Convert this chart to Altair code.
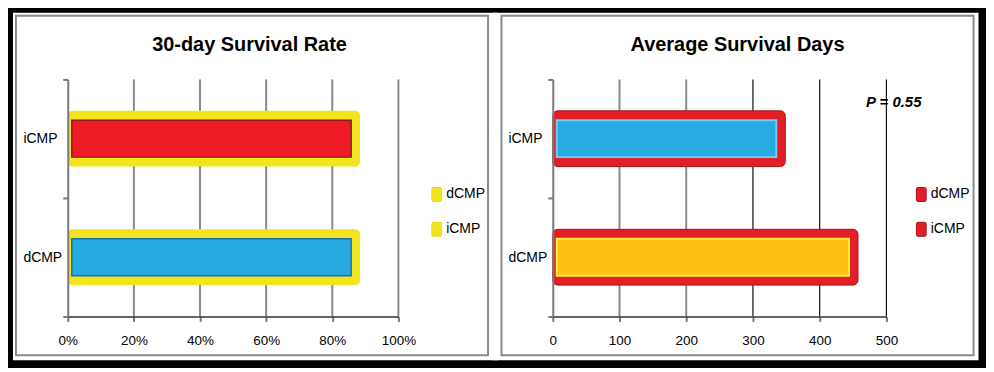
import altair as alt
import pandas as pd

# ---- data ----
groups = ["iCMP", "dCMP"]              # top to bottom
legend_order = ["dCMP", "iCMP"]
survival_rate = [0.857, 0.857]         # 30-day survival rate
survival_days = [335, 444]             # average survival days
rate_ticks = [0, 0.2, 0.4, 0.6, 0.8, 1.0]
day_ticks = [0, 100, 200, 300, 400, 500]
titles = ["30-day Survival Rate", "Average Survival Days"]
p_value_text = "P = 0.55"

FONT = "Liberation Sans"
PLOT_H = 238

rate_df = pd.DataFrame({"group": groups, "value": survival_rate})
days_df = pd.DataFrame({"group": groups, "value": survival_days})
rate_grid = pd.DataFrame({"v": rate_ticks[1:]})
day_grid = pd.DataFrame({"v": day_ticks[1:]})
one = pd.DataFrame({"k": [0]})

SYMBOL = ("M-0.5,-1H0.5A0.2,0.2 0 0 1 0.7,-0.8V0.8A0.2,0.2 0 0 1 0.5,1"
          "H-0.5A0.2,0.2 0 0 1 -0.7,0.8V-0.8A0.2,0.2 0 0 1 -0.5,-1Z")


def panel(df, grid_df, ticks, fmt, title, dx, width, box, border,
          outer_color, outer_stroke, inner_fill, inner_stroke, inner_sw,
          grid_color, grid_width, legend_x, legend_stroke, extra=None):
    xscale = alt.Scale(domain=[ticks[0], ticks[-1]], nice=False, zero=False)
    xaxis = alt.Axis(title=None, values=ticks, format=fmt, grid=False,
                     domainColor="#333333", domainWidth=1.5,
                     tickColor="#7a7a7a", tickWidth=2, tickSize=5,
                     labelPadding=12, labelFont=FONT, labelFontSize=13.5,
                     labelColor="black", labelFlush=False, zindex=1)
    yscale = alt.Scale(domain=groups, paddingInner=0, paddingOuter=0)
    yaxis = alt.Axis(title=None, labelAlign="left", labelPadding=40,
                     tickSize=5, tickBand="extent", tickColor="#7a7a7a",
                     tickWidth=2, domainColor="#7a7a7a", domainWidth=2,
                     labelFont=FONT, labelFontSize=14, labelColor="black",
                     grid=False, zindex=1)
    Y = alt.Y("group:N", sort=groups, scale=yscale, axis=yaxis)

    bg = alt.Chart(one).mark_rect(fill="white", strokeWidth=0).encode(
        x=alt.value(box[0]), x2=alt.value(box[1]),
        y=alt.value(box[2]), y2=alt.value(box[3]))
    frame = alt.Chart(one).mark_rect(fillOpacity=0, stroke="#8a8a8a",
                                     strokeWidth=2).encode(
        x=alt.value(border[0]), x2=alt.value(border[1]),
        y=alt.value(border[2]), y2=alt.value(border[3]))
    grid = alt.Chart(grid_df).mark_rule().encode(
        x=alt.X("v:Q", scale=xscale, axis=xaxis),
        color=grid_color, strokeWidth=grid_width)
    outer = alt.Chart(df).mark_bar(
        size=56, xOffset=9, cornerRadiusEnd=5,
        stroke=outer_stroke, strokeWidth=1 if outer_stroke else 0,
    ).encode(
        x=alt.X("value:Q", scale=xscale, axis=xaxis), x2=alt.datum(0), y=Y,
        color=alt.Color("group:N",
                        scale=alt.Scale(domain=legend_order,
                                        range=[outer_color, outer_color]),
                        legend=alt.Legend(
                            title=None, orient="none", legendX=legend_x,
                            legendY=108, symbolType=SYMBOL, symbolSize=196,
                            symbolStrokeColor=legend_stroke,
                            symbolStrokeWidth=1, labelFont=FONT,
                            labelFontSize=14, labelColor="black",
                            rowPadding=16, labelOffset=2, padding=0)))
    inner = alt.Chart(df).mark_bar(size=37, x2Offset=4,
                                   strokeWidth=inner_sw).encode(
        x=alt.X("value:Q", scale=xscale, axis=xaxis), x2=alt.datum(0), y=Y,
        fill=alt.Fill("group:N", scale=alt.Scale(domain=groups,
                                                  range=inner_fill),
                      legend=None),
        stroke=alt.Stroke("group:N", scale=alt.Scale(domain=groups,
                                                      range=inner_stroke),
                          legend=None))
    layers = [bg, frame, grid, outer, inner]
    if extra is not None:
        layers.append(extra)
    return alt.layer(*layers).properties(
        width=width, height=PLOT_H,
        title=alt.TitleParams(text=title, font=FONT, fontSize=20,
                              fontWeight="bold", color="black",
                              anchor="middle", frame="bounds",
                              offset=-42, dx=dx))


left = panel(rate_df, rate_grid, rate_ticks, ".0%", titles[0], -6, 332,
             box=[-55, 432, -67, 282], border=[-52, 422, -64, 277],
             outer_color="#F2E51D", outer_stroke=None,
             inner_fill=["#ED1C24", "#27AAE1"],
             inner_stroke=["#8E1A1E", "#1C6FA6"], inner_sw=1.5,
             grid_color=alt.value("#8a8a8a"), grid_width=alt.value(2),
             legend_x=363, legend_stroke="#E8DA10")

p_text = alt.Chart(one).mark_text(
    text=p_value_text, align="left", baseline="middle", font=FONT,
    fontSize=15, fontStyle="italic", fontWeight="bold", color="black"
).encode(x=alt.value(314.5), y=alt.value(23))

right = panel(days_df, day_grid, day_ticks, "d", titles[1], 2, 335,
              box=[-60.5, 427.5, -67, 282], border=[-51.5, 422.5, -64, 277],
              outer_color="#E31E26", outer_stroke="#A3141A",
              inner_fill=["#29ABE2", "#FDBF12"],
              inner_stroke=["#6DD0F5", "#FFEE3A"], inner_sw=2,
              grid_color=alt.condition("datum.v >= 300", alt.value("#111111"),
                                       alt.value("#8a8a8a")),
              grid_width=alt.condition("datum.v >= 300", alt.value(1.2),
                                       alt.value(2)),
              legend_x=362.5, legend_stroke="#A3141A", extra=p_text)

chart = alt.hconcat(left, right, spacing=-6).resolve_scale(
    color="independent", fill="independent", stroke="independent"
).properties(
    background="black",
    padding={"left": 5, "top": 4, "right": 7, "bottom": 7},
).configure_view(strokeWidth=0)

chart.save("out.html", embed_options={"renderer": "svg", "actions": False})
